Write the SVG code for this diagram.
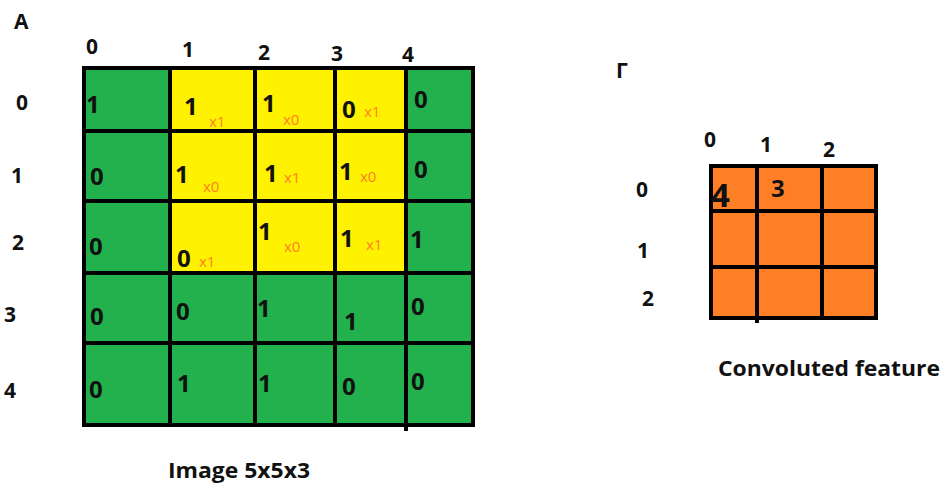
<svg xmlns="http://www.w3.org/2000/svg" width="942" height="485" viewBox="0 0 942 485">
<style>
.lbl{font-family:"Open Sans","Liberation Sans",sans-serif;font-weight:bold;font-size:21px;fill:#111}
.v{font-family:"Open Sans","Liberation Sans",sans-serif;font-weight:bold;font-size:24px;fill:#111}
.m{font-family:"Open Sans","Liberation Sans",sans-serif;font-size:15px;fill:#FF7F27}
.g{fill:#22B14C}
.y{fill:#FFF200}
.o{fill:#FF7F27}
.ln{stroke:#000;stroke-width:4;fill:none}
</style>
<rect width="942" height="485" fill="#fff"/>
<text class="lbl" x="14" y="29">A</text>
<g id="image-grid">
<rect class="g" x="83" y="67" width="391" height="359"/>
<rect class="y" x="170" y="131" width="165" height="142"/>
<rect class="y" x="170" y="67" width="165" height="64"/>
<rect class="y" x="335" y="67" width="71" height="206"/>
<g class="ln">
<rect x="84" y="68" width="389" height="357"/>
<line x1="170" y1="67" x2="170" y2="426"/>
<line x1="255" y1="67" x2="255" y2="426"/>
<line x1="335" y1="67" x2="335" y2="426"/>
<line x1="406" y1="67" x2="406" y2="431"/>
<line x1="83" y1="131" x2="474" y2="131"/>
<line x1="83" y1="201" x2="474" y2="201"/>
<line x1="83" y1="273" x2="474" y2="273"/>
<line x1="83" y1="343" x2="474" y2="343"/>
</g>
</g>
<g id="image-col-labels">
<text class="lbl" x="86" y="54">0</text>
<text class="lbl" x="182" y="57">1</text>
<text class="lbl" x="258" y="60">2</text>
<text class="lbl" x="331" y="61">3</text>
<text class="lbl" x="402" y="62">4</text>
</g>
<g id="image-row-labels">
<text class="lbl" x="16" y="110">0</text>
<text class="lbl" x="11" y="183">1</text>
<text class="lbl" x="12" y="250">2</text>
<text class="lbl" x="4" y="322">3</text>
<text class="lbl" x="4" y="398">4</text>
</g>
<g id="image-values">
<text class="v" x="86" y="113">1</text>
<text class="v" x="184" y="115">1</text><text class="m" x="209" y="127">x1</text>
<text class="v" x="262" y="112">1</text><text class="m" x="283" y="125">x0</text>
<text class="v" x="342" y="118">0</text><text class="m" x="364" y="117">x1</text>
<text class="v" x="414" y="108">0</text>

<text class="v" x="90" y="185">0</text>
<text class="v" x="175" y="183">1</text><text class="m" x="203" y="192">x0</text>
<text class="v" x="264" y="182">1</text><text class="m" x="284" y="183">x1</text>
<text class="v" x="339" y="180">1</text><text class="m" x="360" y="182">x0</text>
<text class="v" x="414" y="178">0</text>

<text class="v" x="89" y="255">0</text>
<text class="v" x="177" y="267">0</text><text class="m" x="199" y="267">x1</text>
<text class="v" x="258" y="240">1</text><text class="m" x="284" y="252">x0</text>
<text class="v" x="340" y="247">1</text><text class="m" x="366" y="250">x1</text>
<text class="v" x="410" y="248">1</text>

<text class="v" x="90" y="325">0</text>
<text class="v" x="176" y="320">0</text>
<text class="v" x="257" y="317">1</text>
<text class="v" x="344" y="330">1</text>
<text class="v" x="411" y="315">0</text>

<text class="v" x="89" y="398">0</text>
<text class="v" x="177" y="392">1</text>
<text class="v" x="258" y="392">1</text>
<text class="v" x="342" y="395">0</text>
<text class="v" x="411" y="390">0</text>
</g>
<text class="lbl" x="168" y="478" textLength="142" lengthAdjust="spacingAndGlyphs">Image 5x5x3</text>

<text class="lbl" x="616" y="78">Γ</text>
<g id="feature-grid">
<rect class="o" x="710" y="165" width="167" height="154"/>
<g class="ln">
<rect x="711" y="166" width="165" height="152"/>
<line x1="757" y1="165" x2="757" y2="323"/>
<line x1="822" y1="165" x2="822" y2="319"/>
<line x1="710" y1="211" x2="877" y2="211"/>
<line x1="710" y1="267" x2="877" y2="267"/>
</g>
<text class="v" x="711" y="207" style="font-size:33px">4</text>
<text class="v" x="771" y="197">3</text>
</g>
<g id="feature-labels">
<text class="lbl" x="704" y="147">0</text>
<text class="lbl" x="760" y="152">1</text>
<text class="lbl" x="823" y="157">2</text>
<text class="lbl" x="636" y="197">0</text>
<text class="lbl" x="637" y="258">1</text>
<text class="lbl" x="642" y="306">2</text>
</g>
<text class="lbl" x="718" y="376" textLength="222" lengthAdjust="spacingAndGlyphs">Convoluted feature</text>
</svg>
